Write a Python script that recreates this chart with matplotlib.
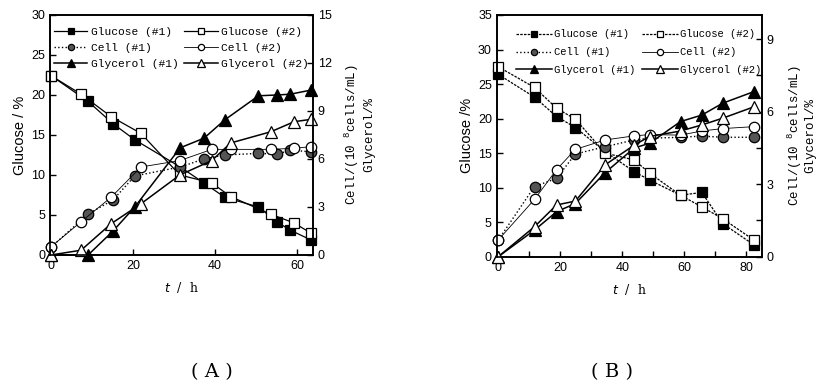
import matplotlib as mpl
mpl.use('Agg')
from matplotlib import pyplot as plt
from matplotlib.ticker import MultipleLocator

mpl.rc('xtick', labelsize=9)
mpl.rc('ytick', labelsize=9)
mpl.rc('mathtext', default='regular')
mpl.rcParams['font.family'] = 'Liberation Sans'

# panel A, run #1 and run #2 (time in h)
t_a1 = [0, 9.0, 15.1, 20.4, 31.5, 37.3, 42.4, 50.6, 55.2, 58.4, 63.3]
glu_a1 = [22.4, 19.2, 16.4, 14.4, 11.0, 9.0, 7.2, 6.0, 4.1, 3.1, 1.9]
cell_a1 = [0.5, 2.56, 3.44, 4.94, 5.5, 6.0, 6.25, 6.35, 6.3, 6.55, 6.45]
gly_a1 = [0, 0, 1.5, 3.0, 6.7, 7.3, 8.45, 9.95, 10.0, 10.05, 10.3]

t_a2 = [0, 7.3, 14.6, 21.9, 31.4, 39.2, 43.8, 53.6, 59.3, 63.5]
glu_a2 = [22.4, 20.1, 17.3, 15.2, 10.0, 9.0, 7.3, 5.1, 4.0, 2.7]
cell_a2 = [0.52, 2.08, 3.6, 5.5, 5.9, 6.6, 6.6, 6.6, 6.67, 6.77]
gly_a2 = [0, 0.3, 1.95, 3.2, 5.0, 5.9, 7.0, 7.7, 8.33, 8.48]

# panel B
t_b = [0, 11.7, 18.8, 24.9, 34.5, 43.9, 48.8, 58.8, 65.7, 72.4, 82.5]
glu_b1 = [26.4, 23.1, 20.3, 18.7, 15.2, 12.3, 11.1, 8.9, 9.3, 4.8, 1.7]
glu_b2 = [27.5, 24.5, 21.5, 19.9, 15.0, 14.0, 12.1, 8.9, 7.2, 5.5, 2.4]
cell_b1 = [0.69, 2.9, 3.24, 4.25, 4.55, 4.83, 4.9, 4.94, 4.99, 4.94, 4.94]
cell_b2 = [0.69, 2.37, 3.6, 4.44, 4.83, 5.0, 5.05, 5.03, 5.2, 5.3, 5.38]
gly_b1 = [0, 1.1, 1.86, 2.2, 3.48, 4.5, 4.69, 5.59, 5.86, 6.35, 6.83]
gly_b2 = [0, 1.24, 2.14, 2.3, 3.8, 4.62, 4.97, 5.2, 5.45, 5.73, 6.2]

mono = 'Liberation Mono'
ms = 7.5


def draw_panel(ax, t1, t2, g1, g2, c1, c2, y1, y2, glu_ls='-'):
    ax2 = ax.twinx()
    kw = dict(color='black', clip_on=False, markeredgewidth=0.9)
    h_g1, = ax.plot(t1, g1, linestyle=glu_ls, lw=0.9, marker='s', ms=ms, mfc='black', label='Glucose (#1)', **kw)
    h_g2, = ax.plot(t2, g2, linestyle=glu_ls, lw=0.9, marker='s', ms=ms, mfc='white', label='Glucose (#2)', **kw)
    h_c1, = ax2.plot(t1, c1, ':', lw=1.0, marker='o', ms=ms, mfc='#555555', label='Cell (#1)', **kw)
    h_c2, = ax2.plot(t2, c2, '-', lw=0.6, marker='o', ms=ms, mfc='white', label='Cell (#2)', **kw)
    h_y1, = ax2.plot(t1, y1, '-', lw=1.1, marker='^', ms=ms + 1.5, mfc='black', label='Glycerol (#1)', **kw)
    h_y2, = ax2.plot(t2, y2, '-', lw=1.1, marker='^', ms=ms + 1.5, mfc='white', label='Glycerol (#2)', **kw)
    for a in (ax, ax2):
        for s in a.spines.values():
            s.set_linewidth(1.2)
        a.tick_params(direction='in', length=4, width=1)
        a.tick_params(which='minor', direction='in', length=4, width=1)
    handles = [h_g1, h_c1, h_y1, h_g2, h_c2, h_y2]
    return ax2, handles


fig = plt.figure(figsize=(8.18, 3.85), dpi=100)

# panel A
axA = fig.add_axes([0.0611, 0.3377, 0.3215, 0.6234])
axA2, hA = draw_panel(axA, t_a1, t_a2, glu_a1, glu_a2, cell_a1, cell_a2, gly_a1, gly_a2)
axA.set_xlim(-0.3, 63.9)
axA.set_ylim(0, 30)
axA2.set_ylim(0, 15)
axA.set_xticks([0, 20, 40, 60])
axA.set_yticks(range(0, 31, 5))
axA2.set_yticks(range(0, 16, 3))
axA.set_ylabel('Glucose / %', fontsize=10.5, labelpad=3)
axA.set_xlabel('$\\it{t}$  /  h', fontsize=9, family='DejaVu Serif', labelpad=6)
axA2.set_ylabel('Cell/(10 $^{8}$cells/mL)\nGlycerol/%', fontsize=9, family=mono,
                linespacing=1.25, labelpad=8)
axA2.legend(hA, [h.get_label() for h in hA], ncol=2, frameon=False,
            prop={'family': mono, 'size': 8.1}, loc='upper left',
            bbox_to_anchor=(48 / 818, 1 - 21 / 385), bbox_transform=fig.transFigure,
            borderpad=0, handlelength=3.0, handletextpad=0.3, columnspacing=0.5,
            labelspacing=0.55, markerscale=0.6)

# panel B
axB = fig.add_axes([0.6072, 0.3333, 0.3240, 0.6278])
axB2, hB = draw_panel(axB, t_b, t_b, glu_b1, glu_b2, cell_b1, cell_b2, gly_b1, gly_b2,
                      glu_ls=(0, (2, 1)))
axB.set_xlim(-0.5, 85)
axB.set_ylim(0, 35)
axB2.set_ylim(0, 10)
axB.set_xticks([0, 20, 40, 60, 80])
axB.xaxis.set_minor_locator(MultipleLocator(10))
axB.set_yticks(range(0, 36, 5))
axB2.set_yticks([0, 3, 6, 9])
axB2.yaxis.set_minor_locator(MultipleLocator(1.5))
axB.set_ylabel('Glucose /%', fontsize=10.5, labelpad=3)
axB.set_xlabel('$\\it{t}$  /  h', fontsize=9, family='DejaVu Serif', labelpad=6)
axB2.set_ylabel('Cell/(10 $^{8}$cells/mL)\nGlycerol/%', fontsize=9, family=mono,
                linespacing=1.05, labelpad=9)
axB2.legend(hB, [h.get_label() for h in hB], ncol=2, frameon=False,
            prop={'family': mono, 'size': 7.6}, loc='upper left',
            bbox_to_anchor=(511 / 818, 1 - 24 / 385), bbox_transform=fig.transFigure,
            borderpad=0, handlelength=3.4, handletextpad=0.2, columnspacing=0.6,
            labelspacing=0.75, markerscale=0.6)

fig.text(212 / 818, 1 - 372 / 385, '( A )', ha='center', va='center', fontsize=14, family='DejaVu Serif')
fig.text(612 / 818, 1 - 372 / 385, '( B )', ha='center', va='center', fontsize=14, family='DejaVu Serif')

plt.savefig('out.png', dpi=100)
